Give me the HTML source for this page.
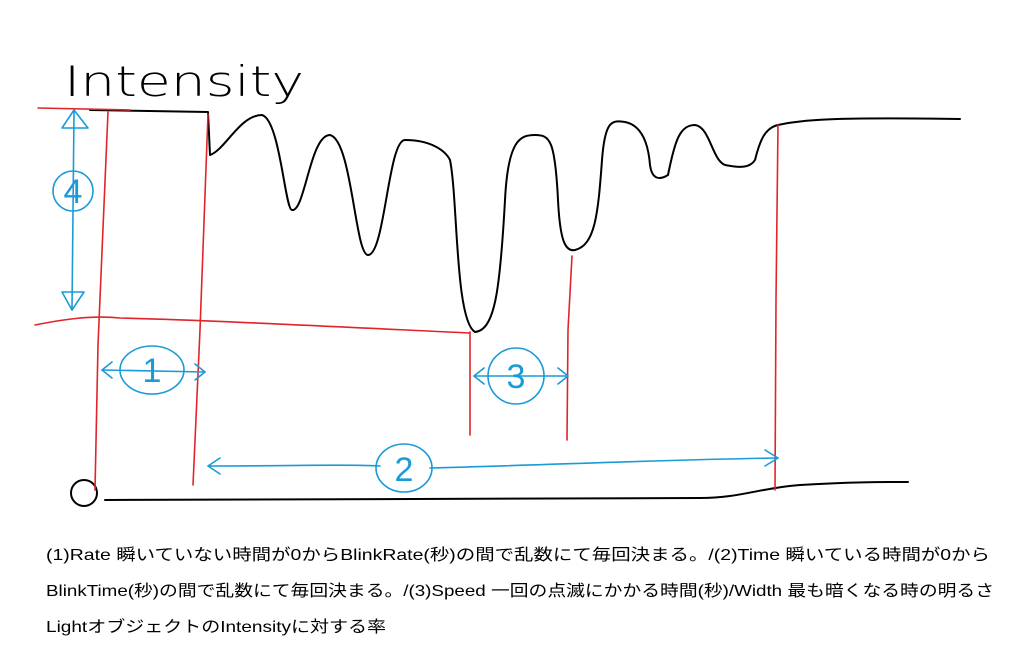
<!DOCTYPE html>
<html><head><meta charset="utf-8"><style>
html,body{margin:0;padding:0;background:#fff;width:1024px;height:656px;overflow:hidden}
svg{display:block}
</style></head><body>
<svg width="1024" height="656" viewBox="0 0 1024 656" xmlns="http://www.w3.org/2000/svg">
<g fill="none" stroke-linecap="round" stroke-linejoin="round">
<!-- black signal -->
<path stroke="#000" stroke-width="2" d="M90,110 L208,112 L210,155 C225,150 240,115 262,115 C280,120 285,210 292,210 C305,212 310,135 330,135 C352,140 355,255 368,255 C385,255 388,140 405,140 C430,140 445,150 450,160 C458,200 455,320 475,332 C495,330 500,290 505,200 C508,140 520,135 535,135 C550,135 555,140 558,200 C560,240 565,252 575,250 C595,245 598,215 602,160 C605,120 612,120 625,122 C640,125 648,140 650,165 C652,180 660,180 668,175 C675,140 680,125 695,125 C710,127 712,160 725,165 C740,168 750,168 755,160 C760,140 765,128 778,125 C800,120 830,117 960,119"/>
<path stroke="#000" stroke-width="2" d="M105,500 L700,498 C740,498 760,488 800,485 C850,482 880,482 908,482"/>
<ellipse cx="84" cy="493" rx="13" ry="13" stroke="#000" stroke-width="2"/>
<!-- red guides -->
<g stroke="#e0242a" stroke-width="1.6">
<path d="M38,108 L130,110"/>
<path d="M108,112 L98,345 L95,490"/>
<path d="M208,114 L200,330 L193,485"/>
<path d="M470,332 L470,435"/>
<path d="M572,256 L568,330 L567,440"/>
<path d="M778,125 L776,300 L775,490"/>
<path d="M35,325 C60,320 90,315 120,318 C200,320 300,325 470,333"/>
</g>
<!-- blue -->
<g stroke="#1a9bd7" stroke-width="1.6">
<path d="M74,112 L72,310"/>
<path d="M62,128 L74,110 L88,128 Z"/>
<path d="M62,292 L72,310 L84,292 Z"/>
<ellipse cx="73" cy="191" rx="20" ry="20"/>
<path d="M102,370 L205,372"/>
<path d="M112,362 L102,370 L112,378"/>
<path d="M195,364 L205,372 L195,380"/>
<ellipse cx="152" cy="370" rx="32" ry="24"/>
<path d="M474,376 L568,376"/>
<path d="M484,368 L474,376 L484,384"/>
<path d="M558,368 L568,376 L558,384"/>
<ellipse cx="516" cy="376" rx="28" ry="28"/>
<path d="M208,466 C300,466 350,464 380,466 M430,468 C550,465 650,460 778,458"/>
<path d="M220,458 L208,466 L220,474"/>
<path d="M765,450 L778,458 L765,466"/>
<ellipse cx="404" cy="468" rx="28" ry="24"/>
</g>
</g>
<g fill="#1a9bd7" font-family="Liberation Sans, sans-serif" font-size="34" text-anchor="middle">
<text x="73" y="203">4</text>
<text x="152" y="382">1</text>
<text x="516" y="388">3</text>
<text x="404" y="481">2</text>
</g>
<text x="64" y="96" font-family="DejaVu Sans, sans-serif" font-size="42" fill="#000" textLength="240" lengthAdjust="spacingAndGlyphs" font-weight="200">Intensity</text>
<g font-family="Liberation Sans, Noto Sans CJK JP, sans-serif" font-size="16" fill="#000">
<text x="46" y="560" textLength="944" lengthAdjust="spacingAndGlyphs">(1)Rate 瞬いていない時間が0からBlinkRate(秒)の間で乱数にて毎回決まる。/(2)Time 瞬いている時間が0から</text>
<text x="46" y="596" textLength="948" lengthAdjust="spacingAndGlyphs">BlinkTime(秒)の間で乱数にて毎回決まる。/(3)Speed 一回の点滅にかかる時間(秒)/Width 最も暗くなる時の明るさ</text>
<text x="46" y="632" textLength="340" lengthAdjust="spacingAndGlyphs">LightオブジェクトのIntensityに対する率</text>
</g>
</svg>
</body></html>
